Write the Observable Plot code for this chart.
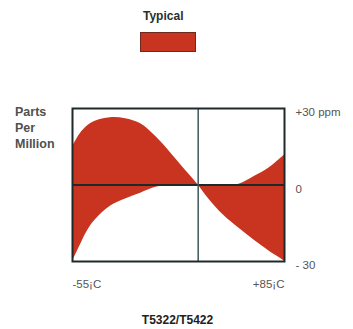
<!DOCTYPE html>
<html>
<head>
<meta charset="utf-8">
<script src="https://cdn.jsdelivr.net/npm/d3@7"></script>
<script src="https://cdn.jsdelivr.net/npm/@observablehq/plot@0.6"></script>
<style>
  body { margin: 0; background: #fff; }
  #wrap { position: relative; width: 353px; height: 329px; font-family: "Liberation Sans", Arial, sans-serif; overflow: hidden; }
  .lbl { position: absolute; white-space: nowrap; }
  #title { left: 143px; top: 9px; font-size: 12px; font-weight: bold; color: #2a2f2f; }
  #swatch { position: absolute; left: 140px; top: 32px; width: 56px; height: 20px; background: #c8341f; border: 1px solid #6e2a20; box-sizing: border-box; }
  #ylab { left: 15px; top: 104px; font-size: 12.5px; font-weight: bold; color: #505050; line-height: 16px; }
  #caption { left: 0; width: 355px; text-align: center; top: 313px; font-size: 12px; font-weight: bold; color: #222; }
  svg { position: absolute; left: 0; top: 0; }
</style>
</head>
<body>
<div id="wrap">
  <div class="lbl" id="title">Typical</div>
  <div id="swatch"></div>
  <div class="lbl" id="ylab">Parts<br>Per<br>Million</div>
  <div class="lbl" id="caption">T5322/T5422</div>
</div>
<script>
// Temperature (°C) sample points
const temps = [-55, -50, -45, -40, -30, -20, -10, 0, 10, 20, 28, 35, 45, 55, 65, 75, 85];
// Curve starting high at -55 °C (ppm)
const curveHigh = [15, 20, 23.2, 25, 26.4, 26, 24, 19, 12.5, 5.5, 0, -5.5, -12, -17, -21.7, -26, -29.8];
// Curve starting low at -55 °C (ppm)
const curveLow = [-30, -23.7, -17.8, -13.7, -8.3, -5.5, -3.2, -0.9, 0.1, 0.2, 0, 0, 0, 0.3, 3.3, 6.8, 11.8];
// Axis tick labels
const yTicks = [30, 0, -30];
const yTickLabels = ["+30 ppm", "0", "- 30"];
const crossTemp = 28;
const xLeftLabel = "-55¡C";
const xRightLabel = "+85¡C";

const data = temps.map((t, i) => ({t, a: curveHigh[i], b: curveLow[i]}));

const chart = Plot.plot({
  width: 353,
  height: 329,
  marginLeft: 72,
  marginRight: 69,
  marginTop: 108,
  marginBottom: 68,
  style: {fontFamily: "Liberation Sans, Arial, sans-serif", background: "transparent"},
  x: {domain: [-55, 85]},
  y: {domain: [-30, 30]},
  marks: [
    Plot.areaY(data, {x: "t", y1: "b", y2: "a", fill: "#c8341f", curve: "catmull-rom"}),
    Plot.ruleY([0], {stroke: "#1e2a2a", strokeWidth: 2}),
    Plot.ruleX([crossTemp], {stroke: "#3f5656", strokeWidth: 1.5}),
    Plot.frame({stroke: "#1e2a2a", strokeWidth: 2}),
    Plot.axisY(yTicks, {anchor: "right", tickSize: 0, tickPadding: 11, dy: 4,
      tickFormat: (d) => yTickLabels[yTicks.indexOf(d)], fontSize: 11.5, color: "#555", label: null}),
    Plot.axisX([-55], {anchor: "bottom", tickSize: 0, tickPadding: 18, textAnchor: "start",
      tickFormat: () => xLeftLabel, fontSize: 11.5, color: "#555", label: null}),
    Plot.axisX([85], {anchor: "bottom", tickSize: 0, tickPadding: 18, textAnchor: "end",
      tickFormat: () => xRightLabel, fontSize: 11.5, color: "#555", label: null})
  ]
});
document.getElementById("wrap").appendChild(chart);
</script>
</body>
</html>
